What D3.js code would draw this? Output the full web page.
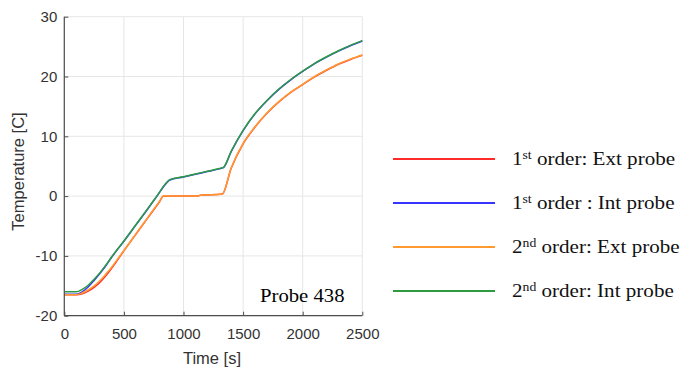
<!DOCTYPE html>
<html>
<head>
<meta charset="utf-8">
<script src="https://cdn.jsdelivr.net/npm/d3@7"></script>
<style>
  html, body { margin: 0; padding: 0; background: #fff; }
  svg { display: block; }
</style>
</head>
<body>
<svg id="chart" width="680" height="370"></svg>
<script>
// ---- data ----
const xTicks = [0, 500, 1000, 1500, 2000, 2500];
const yTicks = [-20, -10, 0, 10, 20, 30];

const timeInt = [0,100,150,200,250,300,350,400,500,600,700,776,860,885,1000,1100,1200,1300,1335,1400,1500,1600,1700,1800,1900,2000,2100,2200,2300,2400,2500];
const int1st  = [-16.4,-16.4,-16.0,-15.2,-14.1,-12.9,-11.6,-10.15,-7.55,-4.85,-2.15,-0.05,2.25,2.7,3.2,3.65,4.1,4.55,4.75,7.45,10.95,13.75,15.95,17.85,19.45,20.85,22.15,23.25,24.25,25.15,25.95];
const int2nd  = [-16.0,-16.0,-15.6,-14.9,-13.9,-12.8,-11.5,-10.1,-7.5,-4.8,-2.1,0.0,2.3,2.75,3.25,3.7,4.15,4.6,4.8,7.5,11.0,13.8,16.0,17.9,19.5,20.9,22.2,23.3,24.3,25.2,26.0];

const timeExt = [0,100,150,200,250,300,350,400,465,500,600,700,800,830,1000,1120,1140,1200,1326,1400,1500,1600,1700,1800,1900,2000,2100,2200,2300,2400,2500];
const ext1st  = [-16.5,-16.5,-16.35,-15.9,-15.25,-14.4,-13.3,-12.0,-10.15,-9.15,-6.4,-3.65,-0.9,-0.02,0.0,0.0,0.15,0.2,0.35,4.65,8.75,11.55,13.85,15.75,17.35,18.65,19.95,21.05,22.05,22.85,23.55];
const ext2nd  = [-16.5,-16.5,-16.2,-15.7,-15.0,-14.1,-13.0,-11.8,-10.05,-9.1,-6.35,-3.6,-0.85,0.0,0.0,0.0,0.15,0.2,0.35,4.7,8.8,11.6,13.9,15.8,17.4,18.7,20.0,21.1,22.1,22.9,23.6];

const seriesNames = ["1st order: Ext probe", "1st order : Int probe", "2nd order: Ext probe", "2nd order: Int probe"];
const seriesColors = ["#ff2a2a", "#3535ff", "#ff9a30", "#2e9a40"];

const series = [
  { name: seriesNames[0], t: timeExt, v: ext1st, color: seriesColors[0] },
  { name: seriesNames[1], t: timeInt, v: int1st, color: seriesColors[1] },
  { name: seriesNames[2], t: timeExt, v: ext2nd, color: seriesColors[2] },
  { name: seriesNames[3], t: timeInt, v: int2nd, color: seriesColors[3] }
];

// ---- layout ----
const svg = d3.select("#chart");
const x = d3.scaleLinear().domain([0, 2500]).range([64.3, 362.3]);
const y = d3.scaleLinear().domain([-20, 30]).range([315.7, 16.7]);

// grid
const grid = svg.append("g");
grid.selectAll("line.gx").data(xTicks).join("line")
  .attr("x1", d => x(d)).attr("x2", d => x(d))
  .attr("y1", y(-20)).attr("y2", y(30))
  .attr("stroke", "#e6e6e6").attr("stroke-width", 1);
grid.selectAll("line.gy").data(yTicks).join("line")
  .attr("x1", x(0)).attr("x2", x(2500))
  .attr("y1", d => y(d)).attr("y2", d => y(d))
  .attr("stroke", "#e6e6e6").attr("stroke-width", 1);

// lines
const line = d3.line().curve(d3.curveMonotoneX);
series.forEach(s => {
  const pts = s.t.map((t, i) => [x(t), y(s.v[i])]);
  svg.append("path")
    .attr("d", line(pts))
    .attr("fill", "none")
    .attr("stroke", s.color)
    .attr("stroke-width", 1.5);
});

// axes
const axisColor = "#4d4d4d";
const fmt = d => String(d);
const xAxis = svg.append("g").attr("transform", `translate(0,${y(-20)})`)
  .call(d3.axisBottom(x).tickValues(xTicks).tickSize(-4).tickPadding(13).tickFormat(fmt));
const yAxis = svg.append("g").attr("transform", `translate(${x(0)},0)`)
  .call(d3.axisLeft(y).tickValues(yTicks).tickSize(-4).tickPadding(7).tickFormat(fmt));
[xAxis, yAxis].forEach(a => {
  a.select(".domain").attr("stroke", axisColor).attr("stroke-width", 1.2);
  a.selectAll(".tick line").attr("stroke", axisColor);
  a.selectAll(".tick text")
    .attr("fill", "#333")
    .style("font-family", "'Liberation Sans', Arial, sans-serif")
    .style("font-size", "15px");
});
yAxis.select(".domain").attr("d", `M0,${y(-20)}V${y(30)}`);
xAxis.select(".domain").attr("d", `M${x(0)},0H${x(2500)}`);

// axis titles
svg.append("text")
  .attr("x", 212).attr("y", 364)
  .attr("text-anchor", "middle")
  .attr("fill", "#333")
  .style("font-family", "'Liberation Sans', Arial, sans-serif")
  .style("font-size", "16.5px")
  .text("Time [s]");
svg.append("text")
  .attr("transform", "translate(24,171.5) rotate(-90)")
  .attr("text-anchor", "middle")
  .attr("fill", "#333")
  .style("font-family", "'Liberation Sans', Arial, sans-serif")
  .style("font-size", "16.5px")
  .text("Temperature [C]");

// annotation
svg.append("text")
  .attr("transform", "translate(260,302) scale(1.12,1)")
  .attr("fill", "#000")
  .style("font-family", "'Liberation Serif', 'Times New Roman', serif")
  .style("font-size", "18.5px")
  .text("Probe 438");

// legend
const legendY = [159, 203, 247, 291];
const leg = svg.append("g");
series.forEach((s, i) => {
  const ly = legendY[i];
  leg.append("line")
    .attr("x1", 393).attr("x2", 495)
    .attr("y1", ly).attr("y2", ly)
    .attr("stroke", s.color).attr("stroke-width", 2);
  const m = s.name.match(/^(\d)(st|nd)(.*)$/);
  const t = leg.append("text")
    .attr("transform", `translate(512,${ly + 6}) scale(1.14,1)`)
    .attr("fill", "#111")
    .style("font-family", "'Liberation Serif', 'Times New Roman', serif")
    .style("font-size", "18.5px");
  t.append("tspan").text(m[1]);
  t.append("tspan").attr("dy", -6.5).style("font-size", "12px").text(m[2]);
  t.append("tspan").attr("dy", 6.5).text(m[3]);
});
</script>
</body>
</html>
